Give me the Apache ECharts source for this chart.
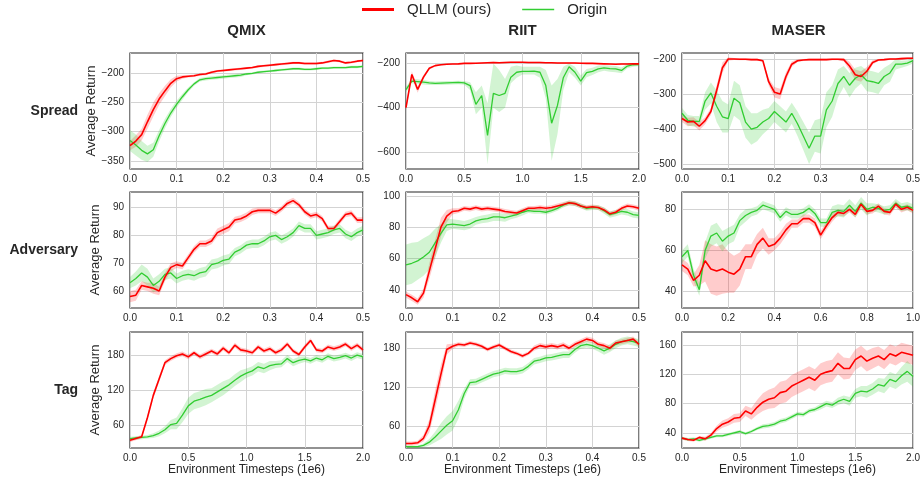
<!DOCTYPE html>
<html><head><meta charset="utf-8">
<script src="https://cdn.jsdelivr.net/npm/echarts@6/dist/echarts.min.js"></script>
<style>html,body{margin:0;padding:0;background:#fff}#c{width:923px;height:480px}</style>
</head><body><div id="c"></div>
<script>
// ---------------- data ----------------
const SERIES_NAMES = ['QLLM (ours)', 'Origin'];
const ALGOS = ['QMIX', 'RIIT', 'MASER'];
const TASKS = ['Spread', 'Adversary', 'Tag'];

// Spread
const QMIX_SPREAD_QLLM = [-324,-316,-305,-283,-262,-244,-230,-217,-209,-206,-205,-204,-202,-201,-198,-196,-195,-194,-193,-192,-191,-190,-188,-187,-186,-185,-184,-183,-182,-182,-183,-183,-183,-182,-180,-178,-179,-182,-181,-179,-178];
const QMIX_SPREAD_QLLM_BAND = [8,10,10,12,12,10,9,7,5,3,2,2,2,2,2,2,2,2,2,2,2,2,2,2,2,2,2,2,2,2,2,2,2,2,2,2,2,2,2,2,2];
const QMIX_SPREAD_ORIGIN = [-315,-323,-332,-338,-331,-307,-286,-268,-253,-240,-228,-218,-211,-209,-208,-207,-206,-205,-204,-203,-201,-200,-198,-197,-196,-195,-194,-193,-192,-192,-193,-193,-192,-191,-191,-190,-190,-190,-189,-189,-188];
const QMIX_SPREAD_ORIGIN_BAND = [18,18,16,14,12,10,8,7,6,5,4,3,3,3,3,3,3,3,3,3,2,2,2,2,2,2,2,2,2,2,2,2,2,2,2,2,2,2,2,2,2];

const RIIT_SPREAD_QLLM = [-400,-250,-318,-262,-222,-210,-206,-204,-203,-202,-200,-200,-199,-198,-197,-196,-197,-196,-195,-195,-195,-196,-196,-196,-197,-197,-198,-198,-198,-198,-199,-200,-200,-201,-202,-203,-204,-203,-203,-202,-202];
const RIIT_SPREAD_QLLM_BAND = [10,15,15,10,6,4,3,3,3,3,3,3,3,3,3,3,3,3,3,3,3,3,3,3,3,3,3,3,3,3,3,3,3,3,3,3,3,3,3,3,3];
const RIIT_SPREAD_ORIGIN = [-318,-280,-282,-285,-288,-290,-289,-288,-287,-286,-288,-300,-385,-345,-525,-335,-345,-335,-262,-240,-236,-236,-235,-240,-300,-470,-390,-265,-215,-240,-280,-242,-236,-225,-220,-224,-225,-232,-212,-206,-205];
const RIIT_SPREAD_ORIGIN_LO = [-330,-290,-292,-295,-297,-298,-297,-296,-295,-294,-296,-320,-430,-400,-655,-400,-420,-400,-290,-265,-250,-250,-250,-265,-360,-640,-520,-320,-240,-265,-300,-262,-252,-240,-233,-238,-240,-245,-222,-215,-212];
const RIIT_SPREAD_ORIGIN_HI = [-305,-270,-272,-275,-279,-282,-281,-280,-279,-278,-280,-285,-330,-300,-380,-200,-230,-270,-215,-210,-215,-215,-215,-215,-230,-300,-270,-215,-200,-215,-255,-225,-220,-210,-208,-210,-212,-218,-202,-198,-198];

const MASER_SPREAD_QLLM = [-370,-380,-378,-392,-376,-350,-290,-225,-200,-200,-201,-201,-202,-202,-205,-265,-295,-300,-250,-215,-205,-203,-202,-202,-202,-202,-201,-201,-202,-220,-245,-250,-235,-210,-203,-202,-200,-200,-199,-198,-198];
const MASER_SPREAD_QLLM_BAND = [10,12,12,12,10,10,15,15,5,3,3,3,3,3,3,10,15,15,12,8,4,3,3,3,3,3,3,3,5,12,15,15,12,6,3,3,3,3,3,3,3];
const MASER_SPREAD_ORIGIN = [-355,-375,-378,-378,-320,-297,-335,-365,-370,-312,-325,-380,-400,-395,-380,-370,-350,-365,-380,-355,-385,-420,-455,-420,-420,-345,-320,-270,-250,-275,-255,-245,-262,-265,-270,-250,-240,-215,-215,-212,-205];
const MASER_SPREAD_ORIGIN_BAND = [15,15,15,15,25,30,45,45,40,50,50,45,45,40,35,30,30,30,30,30,35,40,45,45,50,50,45,40,30,35,30,25,30,30,30,25,25,15,10,8,8];

// Adversary
const QMIX_ADV_QLLM = [58,58.5,62,61.5,61,60,65,68.5,69.5,69,72,75,77,77,78,81,82,83,85.5,86,87,88.5,89,89,89,88,89.5,91.5,92.5,91,88.5,87,87.5,86,82.5,82.5,85,87.5,88,85.5,85.5];
const QMIX_ADV_QLLM_BAND = [2,2,1.5,1.5,2,1.5,1.5,1.5,1.2,1.2,1.2,1.2,1.2,1.2,1.2,1.5,1.5,1.5,1.2,1.2,1.2,1.2,1,1,1,1,1,1,1,1,1,1,1,1,1,1,1,1,1,1,1];
const QMIX_ADV_ORIGIN = [63,64.5,66.5,65,62,63.5,66,66.5,64.5,65.5,66,65.5,66.5,67,69.5,70,71,71.5,74,75,76.5,77,77,78,79.5,80,78.5,79.5,81,83.5,82.5,82.5,80,80.5,81,82,82.5,80.5,79.5,81,82];
const QMIX_ADV_ORIGIN_BAND = [2,2.5,3,3,2.5,2.5,2,2,1.8,1.8,1.8,1.8,1.8,1.8,1.8,1.8,1.8,1.8,1.5,1.5,1.5,1.5,1.5,1.5,1.5,1.5,1.5,1.5,1.5,1.5,1.5,1.5,1.5,1.5,1.5,1.5,1.5,1.5,1.5,1.5,1.5];

const RIIT_ADV_QLLM = [37,35,32.5,38,52,66,80,87,90,90.5,92,91.5,92.5,91.5,92,91.5,91,90,89.5,89,90.5,92,92,92.5,92,92.5,93.5,94.5,95.5,95,93.5,92.5,93,92.5,91,88.5,89.5,92,93.5,93,92];
const RIIT_ADV_QLLM_BAND = [2,2,2,3,5,6,6,4,2,1.5,1.5,1.5,1.5,1.5,1.5,1.5,1.5,1.5,1.5,1.5,1.5,1.5,1.5,1.5,1.5,1.5,1.5,1.5,1.5,1.5,1.5,1.5,1.5,1.5,1.5,1.5,1.5,1.5,1.5,1.5,1.5];
const RIIT_ADV_ORIGIN = [56,57,58.5,61,64,70,76,81.5,82,81.5,81,82,84,85,85.5,86.5,86.5,86,87,88,89.5,90.5,90,90,89.5,90.5,92,94,95.5,95,93.5,92,92.5,92.5,90.5,88,89,90,89.5,88,87.5];
const RIIT_ADV_ORIGIN_BAND = [13,13,12,12,11,9,6,4,3,3,3,3,2.5,2.5,2.5,2.5,2.5,2.5,2,2,2,1.5,1.5,1.5,1.5,1.5,1.5,1.5,1.5,1.5,1.5,1.5,1.5,1.5,2,2,2,2,2,2,2];

const MASER_ADV_QLLM = [53,51,45.5,48,55,51,50,51,49.5,48.5,51,57,57,63,66,62,63,66,70,73,73,75.5,75.5,73.5,67.5,72,76,78.5,78,80,77.5,82.5,79,79.5,81.5,79,78.5,82.5,80,81,79.5];
const MASER_ADV_QLLM_BAND = [3,3,3,5,10,12,12,12,10,9,8,6,6,5,5,4,3,3,3,2,2,2,2,2,2,2,2,1.5,1.5,1.5,1.5,1.5,1.5,1.5,1.5,1.5,1.5,1.5,1.5,1.5,1.5];
const MASER_ADV_ORIGIN = [57,60,48,41,60,67,68.5,64.5,67,68.5,74.5,77,78.5,79.5,82,81,80,76,79,77.5,77.5,78.5,80.5,78,73.5,73.5,78.5,79.5,79,82,79,83,80,81,80.5,79.5,80,83,81,81.5,80.5];
const MASER_ADV_ORIGIN_BAND = [3,3,3,3,4,5,5,5,4,4,3,3,2,2,2,2,2,2,2,2,2,2,2,2,2,2,3,3,3,3,3,3,3,2,2,2,2,2,2,2,2];

// Tag
const QMIX_TAG_QLLM = [35,38,41,74,112,140,168,175,180,183,178,185,178,183,188,183,193,185,198,190,188,185,195,188,192,185,190,200,188,182,195,206,190,188,195,192,195,200,192,198,190];
const QMIX_TAG_QLLM_BAND = [3,3,3,4,5,5,4,4,4,4,4,4,4,4,4,4,4,4,4,4,4,4,4,4,4,4,4,4,4,4,4,4,4,4,4,4,4,4,4,4,4];
const QMIX_TAG_ORIGIN = [38,39,40,41,43,47,53,62,64,78,94,102,105,109,112,118,124,130,138,145,150,154,161,158,163,165,166,175,168,172,174,171,176,173,179,175,177,180,176,181,178];
const QMIX_TAG_ORIGIN_BAND = [3,3,3,3,4,5,6,8,10,12,14,14,14,14,12,12,12,10,10,10,8,8,8,8,8,6,6,6,6,6,5,5,5,5,5,5,5,5,5,5,5];

const RIIT_TAG_QLLM = [33,33,34,41,60,100,140,178,183,186,185,188,186,183,178,182,185,180,175,172,168,172,180,184,182,184,182,185,180,186,190,194,192,186,184,180,188,190,192,194,186];
const RIIT_TAG_QLLM_BAND = [3,3,3,5,10,15,15,8,4,3,3,3,3,3,3,3,3,3,3,3,3,3,4,4,4,4,4,4,4,4,4,4,4,4,4,4,4,4,4,4,4];
const RIIT_TAG_ORIGIN = [28,28,28,30,35,43,52,61,68,85,110,127,128,132,136,140,142,145,144,144,146,152,160,162,165,166,168,170,170,178,184,186,184,180,176,180,186,190,192,190,188];
const RIIT_TAG_ORIGIN_BAND = [2,2,2,3,5,8,12,14,15,14,8,5,5,5,5,5,5,5,5,5,5,5,5,5,5,5,5,5,5,5,5,5,5,5,6,6,6,6,6,6,6];

const MASER_TAG_QLLM = [33,31,30,34,32,37,46,52,55,60,61,70,66,75,82,86,88,95,97,104,108,112,116,112,120,123,125,135,128,128,140,145,138,142,145,140,148,145,150,148,146];
const MASER_TAG_QLLM_BAND = [2,2,2,2,3,3,4,5,5,6,6,7,8,10,12,13,14,15,15,15,15,15,15,15,15,15,15,15,15,14,14,14,14,14,13,13,13,13,13,13,13];
const MASER_TAG_ORIGIN = [33,31,32,30,32,34,36,36,38,40,42,39,42,46,49,50,52,56,58,62,66,65,70,72,76,80,78,83,86,83,94,97,96,100,106,104,113,110,118,124,117];
const MASER_TAG_ORIGIN_BAND = [2,2,2,2,2,2,2,2,2,2,2,2,2,2,3,3,3,3,3,3,3,3,3,3,4,4,4,5,5,6,6,7,8,8,9,10,10,10,12,14,14];

// tick labels
const Y_TICKS_QMIX_SPREAD = [-350,-300,-250,-200];
const Y_TICKS_RIIT_SPREAD = [-600,-400,-200];
const Y_TICKS_MASER_SPREAD = [-500,-400,-300,-200];
const Y_TICKS_QMIX_ADV = [60,70,80,90];
const Y_TICKS_RIIT_ADV = [40,60,80,100];
const Y_TICKS_MASER_ADV = [40,60,80];
const Y_TICKS_QMIX_TAG = [60,120,180];
const Y_TICKS_RIIT_TAG = [60,120,180];
const Y_TICKS_MASER_TAG = [40,80,120,160];

// ---------------- layout & style ----------------
const FONT = '"Liberation Sans", Arial, Helvetica, sans-serif';
const TXT = '#262626';
const RED = '#ff0000', GREEN = '#32cd32';
const RED_FILL = 'rgba(255,0,0,0.2)', GREEN_FILL = 'rgba(50,205,50,0.22)';
const LEFTS = [130, 406, 682], TOPS = [53, 192, 332], W = 233, H = 116;

const panels = [
  {row:0,col:0,xMax:0.5,xInt:0.1,yMin:-364,yMax:-165,ticks:Y_TICKS_QMIX_SPREAD,q:QMIX_SPREAD_QLLM,qb:QMIX_SPREAD_QLLM_BAND,o:QMIX_SPREAD_ORIGIN,ob:QMIX_SPREAD_ORIGIN_BAND},
  {row:0,col:1,xMax:2.0,xInt:0.5,yMin:-677,yMax:-153,ticks:Y_TICKS_RIIT_SPREAD,q:RIIT_SPREAD_QLLM,qb:RIIT_SPREAD_QLLM_BAND,o:RIIT_SPREAD_ORIGIN,oLo:RIIT_SPREAD_ORIGIN_LO,oHi:RIIT_SPREAD_ORIGIN_HI},
  {row:0,col:2,xMax:0.5,xInt:0.1,yMin:-514,yMax:-183,ticks:Y_TICKS_MASER_SPREAD,q:MASER_SPREAD_QLLM,qb:MASER_SPREAD_QLLM_BAND,o:MASER_SPREAD_ORIGIN,ob:MASER_SPREAD_ORIGIN_BAND},
  {row:1,col:0,xMax:0.5,xInt:0.1,yMin:53.9,yMax:95.6,ticks:Y_TICKS_QMIX_ADV,q:QMIX_ADV_QLLM,qb:QMIX_ADV_QLLM_BAND,o:QMIX_ADV_ORIGIN,ob:QMIX_ADV_ORIGIN_BAND},
  {row:1,col:1,xMax:0.5,xInt:0.1,yMin:28.5,yMax:102.4,ticks:Y_TICKS_RIIT_ADV,q:RIIT_ADV_QLLM,qb:RIIT_ADV_QLLM_BAND,o:RIIT_ADV_ORIGIN,ob:RIIT_ADV_ORIGIN_BAND},
  {row:1,col:2,xMax:1.0,xInt:0.2,yMin:32.1,yMax:88.4,ticks:Y_TICKS_MASER_ADV,q:MASER_ADV_QLLM,qb:MASER_ADV_QLLM_BAND,o:MASER_ADV_ORIGIN,ob:MASER_ADV_ORIGIN_BAND},
  {row:2,col:0,xMax:2.0,xInt:0.5,yMin:21.8,yMax:220.6,ticks:Y_TICKS_QMIX_TAG,q:QMIX_TAG_QLLM,qb:QMIX_TAG_QLLM_BAND,o:QMIX_TAG_ORIGIN,ob:QMIX_TAG_ORIGIN_BAND},
  {row:2,col:1,xMax:0.5,xInt:0.1,yMin:26,yMax:205,ticks:Y_TICKS_RIIT_TAG,q:RIIT_TAG_QLLM,qb:RIIT_TAG_QLLM_BAND,o:RIIT_TAG_ORIGIN,ob:RIIT_TAG_ORIGIN_BAND},
  {row:2,col:2,xMax:2.0,xInt:0.5,yMin:19.5,yMax:177.7,ticks:Y_TICKS_MASER_TAG,q:MASER_TAG_QLLM,qb:MASER_TAG_QLLM_BAND,o:MASER_TAG_ORIGIN,ob:MASER_TAG_ORIGIN_BAND}
];

const grids = [], xAxes = [], yAxes = [], series = [];
const minus = v => String(v).replace('-', '\u2212');

panels.forEach((p, k) => {
  const n = p.q.length;
  const xs = p.q.map((_, i) => +(i * p.xMax / (n - 1)).toFixed(6));
  grids.push({left: LEFTS[p.col], top: TOPS[p.row], width: W, height: H, show: true,
    borderColor: TXT, borderWidth: 1.2, backgroundColor: 'transparent', containLabel: false});
  xAxes.push({type: 'value', gridIndex: k, min: 0, max: p.xMax, interval: p.xInt,
    axisLine: {show: false}, axisTick: {show: false},
    axisLabel: {formatter: v => v.toFixed(1), fontSize: 10, color: TXT, fontFamily: FONT, margin: 5},
    splitLine: {show: true, lineStyle: {color: '#d3d3d3', width: 1}},
    name: p.row === 2 ? 'Environment Timesteps (1e6)' : '', nameLocation: 'middle', nameGap: 16,
    nameTextStyle: {fontSize: 12, color: TXT, fontFamily: FONT}});
  yAxes.push({type: 'value', gridIndex: k, min: p.yMin, max: p.yMax,
    axisLine: {show: false}, axisTick: {show: false, customValues: p.ticks},
    axisLabel: {customValues: p.ticks, formatter: minus, fontSize: 10, color: TXT, fontFamily: FONT, margin: 6},
    splitLine: {show: true, lineStyle: {color: '#d3d3d3', width: 1}},
    name: p.col === 0 ? 'Average Return' : '', nameLocation: 'middle', nameGap: 28, nameRotate: 90,
    nameTextStyle: {fontSize: 13, color: TXT, fontFamily: FONT}});

  // confidence band as a polygon placed through the axes' own scales
  const band = (lo, hi, fill) => {
    series.push({type: 'custom', xAxisIndex: k, yAxisIndex: k, silent: true, clip: true, z: 1,
      data: [[xs[0], lo[0]]],
      renderItem: (params, api) => {
        const pts = [];
        for (let i = 0; i < n; i++) pts.push(api.coord([xs[i], hi[i]]));
        for (let i = n - 1; i >= 0; i--) pts.push(api.coord([xs[i], lo[i]]));
        return {type: 'polygon', shape: {points: pts}, style: {fill: fill, stroke: null}};
      }});
  };
  band(p.q.map((v, i) => v - p.qb[i]), p.q.map((v, i) => v + p.qb[i]), RED_FILL);
  if (p.oLo) band(p.oLo, p.oHi, GREEN_FILL);
  else band(p.o.map((v, i) => v - p.ob[i]), p.o.map((v, i) => v + p.ob[i]), GREEN_FILL);

  series.push({type: 'line', name: SERIES_NAMES[1], xAxisIndex: k, yAxisIndex: k,
    data: p.o.map((v, i) => [xs[i], v]), symbol: 'none', showSymbol: false,
    lineStyle: {color: GREEN, width: 1.3}, itemStyle: {color: GREEN}, z: 3});
  series.push({type: 'line', name: SERIES_NAMES[0], xAxisIndex: k, yAxisIndex: k,
    data: p.q.map((v, i) => [xs[i], v]), symbol: 'none', showSymbol: false,
    lineStyle: {color: RED, width: 1.6}, itemStyle: {color: RED}, z: 4});
});

const graphic = [];
ALGOS.forEach((t, c) => graphic.push({type: 'text', x: LEFTS[c] + W / 2, y: 31,
  style: {text: t, font: 'bold 15px ' + FONT, fill: TXT, align: 'center', verticalAlign: 'middle'}}));
TASKS.forEach((t, r) => graphic.push({type: 'text', x: 78, y: TOPS[r] + H / 2,
  style: {text: t, font: 'bold 14px ' + FONT, fill: TXT, align: 'right', verticalAlign: 'middle'}}));

const chart = echarts.init(document.getElementById('c'), null, {renderer: 'canvas'});
chart.setOption({
  animation: false,
  backgroundColor: '#ffffff',
  legend: {
    left: 362, top: 2, padding: 0, itemGap: 31, itemWidth: 32, itemHeight: 3,
    textStyle: {fontSize: 15, color: TXT, fontFamily: FONT, padding: [0, 0, 0, 8]},
    data: [
      {name: SERIES_NAMES[0], icon: 'path://M0,0H32V3H0Z'},
      {name: SERIES_NAMES[1], icon: 'path://M0,0.75H32V2.25H0Z'}
    ]
  },
  grid: grids, xAxis: xAxes, yAxis: yAxes, series: series, graphic: graphic
});
</script></body></html>
